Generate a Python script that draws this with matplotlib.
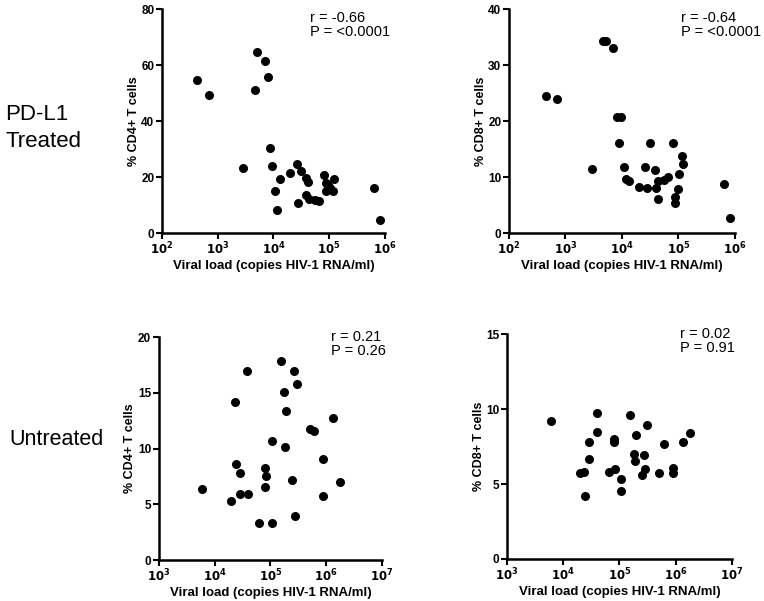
import numpy as np
import matplotlib
matplotlib.use("Agg")
import matplotlib.pyplot as plt

plt.rcParams['font.family'] = ['Liberation Sans', 'DejaVu Sans']

# log10 viral load and % cells
treated_cd4_logvl = [2.628, 2.843, 3.447, 3.662, 3.710, 3.842, 3.901, 3.937, 3.973, 4.027,
                     4.069, 4.123, 4.290, 4.416, 4.445, 4.499, 4.583, 4.625, 4.589, 4.643,
                     4.738, 4.822, 4.900, 4.936, 4.936, 4.984, 5.019, 5.067, 5.085, 5.809, 5.910]
treated_cd4 = [54.5, 49.2, 23.3, 51.2, 64.5, 61.5, 55.8, 30.5, 23.9, 15.0,
               8.1, 19.4, 21.3, 24.5, 10.8, 22.1, 19.5, 18.2, 13.6, 12.3,
               11.8, 11.4, 20.6, 18.0, 14.9, 17.3, 16.1, 14.9, 19.4, 16.0, 4.6]

treated_cd8_logvl = [2.648, 2.848, 3.461, 3.661, 3.726, 3.850, 3.909, 3.979, 3.950, 4.038,
                     4.079, 4.132, 4.303, 4.415, 4.450, 4.503, 4.586, 4.597, 4.632, 4.645,
                     4.739, 4.822, 4.910, 4.946, 4.946, 4.999, 5.005, 5.070, 5.088, 5.812, 5.912]
treated_cd8 = [24.5, 23.9, 11.4, 34.3, 34.3, 33.1, 20.8, 20.8, 16.1, 11.8,
               9.6, 9.2, 8.2, 11.8, 8.0, 16.0, 11.3, 8.0, 9.2, 6.1,
               9.5, 10.0, 16.0, 6.5, 5.3, 7.9, 10.6, 13.7, 12.4, 8.75, 2.7]

untreated_cd4_logvl = [3.775, 4.294, 4.359, 4.377, 4.449, 4.461, 4.586, 4.598, 4.800, 4.902,
                       4.920, 4.902, 5.021, 5.027, 5.182, 5.247, 5.265, 5.289, 5.390, 5.432,
                       5.450, 5.480, 5.706, 5.790, 5.939, 5.945, 6.124, 6.255]
untreated_cd4 = [6.38, 5.33, 14.13, 8.62, 7.81, 5.90, 16.95, 5.90, 3.29, 8.29,
                 7.57, 6.53, 10.69, 3.32, 17.87, 15.06, 10.15, 13.35, 7.22, 16.95,
                 3.95, 15.81, 11.71, 11.53, 9.04, 5.75, 12.78, 7.01]

untreated_cd8_logvl = [3.779, 4.302, 4.361, 4.385, 4.456, 4.462, 4.593, 4.605, 4.807, 4.908,
                       4.908, 4.926, 5.021, 5.033, 5.187, 5.253, 5.270, 5.288, 5.395, 5.437,
                       5.455, 5.484, 5.710, 5.787, 5.948, 5.948, 6.126, 6.257]
untreated_cd8 = [9.18, 5.73, 5.80, 4.18, 7.78, 6.67, 9.71, 8.49, 5.78, 8.00,
                 7.84, 6.00, 5.31, 4.51, 9.58, 7.00, 6.56, 8.29, 5.58, 6.91,
                 5.98, 8.93, 5.71, 7.67, 6.07, 5.73, 7.82, 8.38]

fig = plt.figure(figsize=(7.64, 6.01), dpi=100)

panels = [
    # rect, logx, y, xlim decades, ymax, ytick step, ylabel, stats, stats pos
    ([0.2120, 0.6123, 0.2919, 0.3727], treated_cd4_logvl, treated_cd4, (2, 6), 80, 20,
     "% CD4+ T cells", "r = -0.66\nP = <0.0001", (0.665, 0.99)),
    ([0.6662, 0.6123, 0.2958, 0.3727], treated_cd8_logvl, treated_cd8, (2, 6), 40, 10,
     "% CD8+ T cells", "r = -0.64\nP = <0.0001", (0.762, 0.99)),
    ([0.2077, 0.0682, 0.2923, 0.3710], untreated_cd4_logvl, untreated_cd4, (3, 7), 20, 5,
     "% CD4+ T cells", "r = 0.21\nP = 0.26", (0.770, 1.03)),
    ([0.6636, 0.0699, 0.2945, 0.3740], untreated_cd8_logvl, untreated_cd8, (3, 7), 15, 5,
     "% CD8+ T cells", "r = 0.02\nP = 0.91", (0.770, 1.03)),
]

for rect, lx, yv, (d0, d1), ymax, ystep, ylab, stats, spos in panels:
    ax = fig.add_axes(rect)
    ax.scatter(10 ** np.array(lx), yv, s=30, color='black', zorder=3, clip_on=False)
    ax.set_xscale('log')
    ax.set_xlim(10 ** d0, 10 ** d1)
    ax.set_ylim(0, ymax)
    ax.set_xticks([10 ** d for d in range(d0, d1 + 1)])
    ax.set_xticklabels([f"$\\mathbf{{10^{{{d}}}}}$" for d in range(d0, d1 + 1)])
    ax.xaxis.set_minor_locator(matplotlib.ticker.NullLocator())
    ax.set_yticks(np.arange(0, ymax + 1, ystep))
    for s in ['top', 'right']:
        ax.spines[s].set_visible(False)
    for s in ['left', 'bottom']:
        ax.spines[s].set_linewidth(1.8)
    ax.tick_params(width=1.5, length=4, labelsize=8.5, pad=1.5)
    for lab in ax.get_yticklabels():
        lab.set_fontweight('bold')
    ax.set_ylabel(ylab, fontsize=9, fontweight='bold', labelpad=1)
    ax.set_xlabel("Viral load (copies HIV-1 RNA/ml)", fontsize=9.5, fontweight='bold', labelpad=2)
    ax.text(spos[0], spos[1], stats, transform=ax.transAxes, fontsize=10.5,
            va='top', ha='left', linespacing=1.0)

fig.text(0.007, 0.787, "PD-L1\nTreated", fontsize=16, va='center', ha='left', linespacing=1.4)
fig.text(0.012, 0.268, "Untreated", fontsize=15.5, va='center', ha='left')

fig.savefig("out.png", dpi=100)
